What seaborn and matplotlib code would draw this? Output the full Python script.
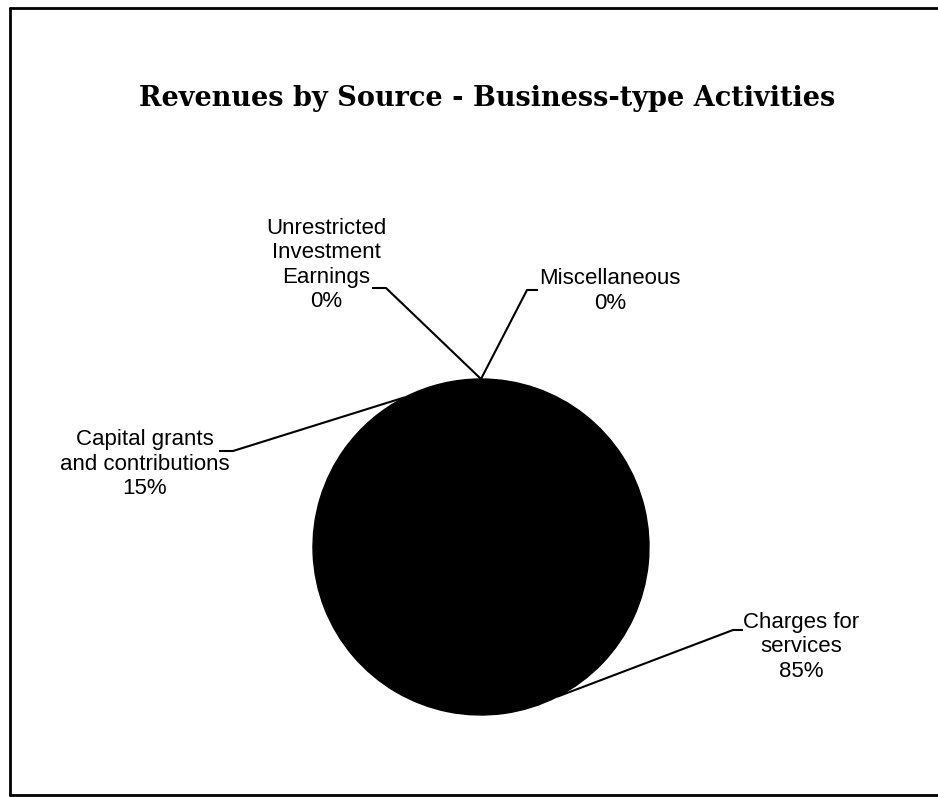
import numpy as np
import matplotlib
matplotlib.use("Agg")
import matplotlib.pyplot as plt
import seaborn as sns

# Revenue shares by source (percent)
categories = ["Charges for\nservices", "Capital grants\nand contributions",
              "Unrestricted\nInvestment\nEarnings", "Miscellaneous"]
shares = [85, 15, 0, 0]
title = "Revenues by Source - Business-type Activities"

sns.set_theme(style="white")
plt.rcParams["font.family"] = ["Liberation Sans", "DejaVu Sans"]
plt.rcParams["text.color"] = "black"

W, H = 938, 797
fig = plt.figure(figsize=(W / 100, H / 100), dpi=100)
ax = fig.add_axes([0, 0, 1, 1])


def img_y(y):
    return H - y


center = (481, img_y(547))
radius = 168
colors = sns.color_palette(["#000000"] * len(shares))
wedges, _ = ax.pie(shares, colors=colors, startangle=90, counterclock=False,
                   center=center, radius=radius, frame=True,
                   wedgeprops=dict(edgecolor="black", linewidth=1))
ax.set_xlim(0, W)
ax.set_ylim(0, H)
ax.set_aspect("equal")
ax.axis("off")

total = sum(shares)
# label block centre, leader start and direction of the short tick
label_layout = [
    dict(text_xy=(801, 647), start=(743, 630), tick=-10),
    dict(text_xy=(145, 464), start=(219, 451), tick=14),
    dict(text_xy=(326, 265), start=(372, 288), tick=14),
    dict(text_xy=(610, 291), start=(538, 290), tick=-11),
]

for w, cat, val, lay in zip(wedges, categories, shares, label_layout):
    mid = np.deg2rad((w.theta1 + w.theta2) / 2)
    px = center[0] + radius * np.cos(mid)
    py = center[1] + radius * np.sin(mid)
    sx, sy = lay["start"]
    kx = sx + lay["tick"]
    ax.plot([sx, kx, px], [img_y(sy), img_y(sy), py], color="black", lw=1.5,
            solid_capstyle="butt", solid_joinstyle="round")
    ax.text(lay["text_xy"][0], img_y(lay["text_xy"][1]),
            f"{cat}\n{round(val / total * 100)}%",
            ha="center", va="center", fontsize=16, linespacing=1.22,
            color="black")

fig.text(487 / W, 1 - 98 / H, title, ha="center", va="center",
         fontsize=19.5, fontweight="bold", family=["DejaVu Serif"],
         color="black")

# outer border (left, top, bottom)
ax.plot([10, 10], [img_y(8), img_y(795)], color="black", lw=2)
ax.plot([10, W], [img_y(8), img_y(8)], color="black", lw=2)
ax.plot([10, W], [img_y(795), img_y(795)], color="black", lw=2)

fig.savefig("out.png", dpi=100, facecolor="white")
